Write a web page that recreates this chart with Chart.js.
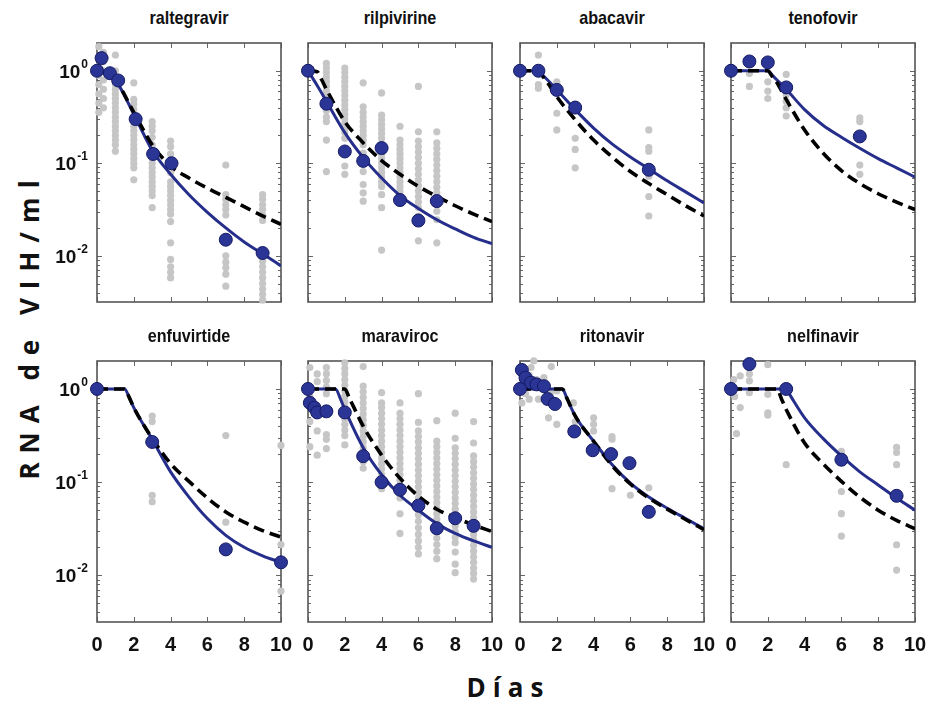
<!DOCTYPE html>
<html>
<head>
<meta charset="utf-8">
<script src="https://cdn.jsdelivr.net/npm/chart.js@4.4.1/dist/chart.umd.min.js"></script>
<style>
  body { margin: 0; background: #fff; font-family: "Liberation Sans", Arial, sans-serif; }
  #wrap { position: relative; width: 928px; height: 706px; overflow: hidden; }
  #wrap canvas { position: absolute; }
  .ttl { position: absolute; width: 184px; text-align: center; font-weight: bold; font-size: 19px; color: #111; line-height: 20px; transform: scaleX(0.85); transform-origin: center; }
  #ylab, #xlab { position: absolute; font-family: "Open Sans", sans-serif; font-weight: 700; font-size: 26px; color: #111; white-space: nowrap; }
  #ylab { left: 29px; top: 330px; letter-spacing: 9px; padding-left: 9px; transform: translate(-50%, -50%) rotate(-90deg); }
  #xlab { left: 505px; top: 687px; letter-spacing: 7px; padding-left: 7px; transform: translate(-50%, -50%); }
</style>
</head>
<body>
<div id="wrap">
  <div id="ylab">RNA de VIH/ml</div>
  <div id="xlab">Días</div>
</div>
<script>
// axes
const xTicks = [0, 2, 4, 6, 8, 10];
const yTicks = [1, 0.1, 0.01];
const yTickExp = ['0', '-1', '-2'];
const yMin = 0.00316, yMax = 1.995;

const drugs = ['raltegravir', 'rilpivirine', 'abacavir', 'tenofovir',
               'enfuvirtide', 'maraviroc', 'ritonavir', 'nelfinavir'];

// individual patients: [day, [values]]
const raltegravirSamples = [
  [0.1, [1.82, 1.41, 1.12, 0.891, 0.708, 0.562, 0.447, 0.355]],
  [0.35, [1.58, 1.26, 1.0, 0.794, 0.631, 0.501, 0.398]],
  [1, [1.48, 1.0, 0.794, 0.708, 0.631, 0.562, 0.501, 0.447, 0.398, 0.355, 0.316, 0.282, 0.251, 0.224, 0.2, 0.178, 0.158, 0.135]],
  [2, [0.741, 0.49, 0.437, 0.38, 0.316, 0.282, 0.251, 0.224, 0.2, 0.178, 0.158, 0.141, 0.126, 0.112, 0.1, 0.0891, 0.0661]],
  [3, [0.282, 0.251, 0.224, 0.191, 0.158, 0.126, 0.112, 0.1, 0.0891, 0.0794, 0.0708, 0.0631, 0.0562, 0.0501, 0.0447, 0.0331]],
  [4, [0.174, 0.151, 0.126, 0.107, 0.0891, 0.0794, 0.0631, 0.0562, 0.0501, 0.0447, 0.0398, 0.0355, 0.0316, 0.0282, 0.0234, 0.0138, 0.00912, 0.00759, 0.00661, 0.00575]],
  [7, [0.0955, 0.0457, 0.0407, 0.0355, 0.0316, 0.0275, 0.0148, 0.01, 0.00851, 0.00741, 0.00631, 0.00468]],
  [9, [0.0457, 0.0407, 0.0355, 0.0316, 0.0275, 0.024, 0.01, 0.00871, 0.00759, 0.00661, 0.00575, 0.00501, 0.00437, 0.0038, 0.00331]]
];
const rilpivirineSamples = [
  [1, [1.2, 1.07, 0.955, 0.851, 0.759, 0.676, 0.603, 0.537, 0.468, 0.417, 0.372, 0.316, 0.282, 0.178, 0.0813]],
  [2, [1.07, 0.955, 0.851, 0.759, 0.676, 0.603, 0.537, 0.479, 0.427, 0.38, 0.339, 0.302, 0.269, 0.24, 0.214, 0.186, 0.0933, 0.0759]],
  [3, [0.741, 0.407, 0.355, 0.316, 0.282, 0.251, 0.224, 0.2, 0.178, 0.158, 0.129, 0.0813, 0.0589, 0.0479, 0.0389]],
  [4, [0.575, 0.331, 0.295, 0.263, 0.234, 0.209, 0.186, 0.158, 0.141, 0.126, 0.112, 0.1, 0.0891, 0.0794, 0.0708, 0.0631, 0.0562, 0.0457, 0.0331, 0.0115]],
  [5, [0.251, 0.178, 0.158, 0.141, 0.126, 0.112, 0.1, 0.0891, 0.0794, 0.0708, 0.0631, 0.0562, 0.0501, 0.0447, 0.0389]],
  [6, [0.676, 0.219, 0.174, 0.151, 0.132, 0.115, 0.1, 0.0871, 0.0759, 0.0661, 0.0575, 0.0501, 0.0437, 0.038, 0.0331, 0.0269, 0.0145]],
  [7, [0.219, 0.166, 0.145, 0.126, 0.11, 0.0955, 0.0832, 0.0724, 0.0631, 0.055, 0.0479, 0.0417, 0.0355, 0.0302, 0.0245, 0.0138]]
];
const abacavirSamples = [
  [1, [1.48, 0.708, 0.646]],
  [2, [0.759, 0.724, 0.347, 0.229]],
  [3, [0.186, 0.141, 0.0891]],
  [7, [0.229, 0.148, 0.135, 0.0724, 0.0437, 0.0269]]
];
const tenofovirSamples = [
  [1, [0.933, 0.676]],
  [2, [0.759, 0.603, 0.501]],
  [3, [0.912, 0.55, 0.468, 0.398, 0.324]],
  [7, [0.309, 0.282, 0.0955, 0.0759]]
];
const enfuvirtideSamples = [
  [3, [0.513, 0.447, 0.0724, 0.0617]],
  [7, [0.316, 0.0372]],
  [10, [0.248, 0.0214, 0.00679]]
];
const maravirocSamples = [
  [0.1, [1.7, 0.832, 0.447, 0.24]],
  [0.5, [1.45, 1.2, 0.355, 0.195]],
  [1, [1.7, 1.45, 1.23, 1.05, 0.891, 0.324, 0.288, 0.229]],
  [2, [1.905, 1.66, 1.45, 1.26, 1.1, 0.955, 0.832, 0.724, 0.631, 0.55, 0.479, 0.417, 0.363, 0.316, 0.251]],
  [3, [1.74, 1.07, 0.933, 0.813, 0.708, 0.617, 0.537, 0.468, 0.407, 0.355, 0.309, 0.269, 0.234, 0.2, 0.166, 0.141]],
  [4, [0.912, 0.708, 0.631, 0.55, 0.479, 0.417, 0.363, 0.316, 0.275, 0.24, 0.209, 0.182, 0.158, 0.138, 0.12, 0.105, 0.0851]],
  [5, [0.708, 0.55, 0.479, 0.417, 0.363, 0.316, 0.275, 0.24, 0.209, 0.182, 0.158, 0.138, 0.12, 0.105, 0.0912, 0.0794, 0.0676, 0.0457, 0.0282]],
  [6, [0.891, 0.437, 0.355, 0.309, 0.269, 0.234, 0.204, 0.178, 0.155, 0.135, 0.117, 0.102, 0.0891, 0.0776, 0.0676, 0.0589, 0.0447, 0.038, 0.0324, 0.0275, 0.0234, 0.02, 0.017]],
  [7, [0.457, 0.275, 0.24, 0.209, 0.182, 0.158, 0.138, 0.12, 0.105, 0.0912, 0.0794, 0.0692, 0.0603, 0.0525, 0.0457, 0.0398, 0.0347, 0.0251, 0.0214, 0.0182, 0.0151]],
  [8, [0.55, 0.295, 0.234, 0.204, 0.178, 0.155, 0.135, 0.117, 0.102, 0.0891, 0.0776, 0.0676, 0.0589, 0.0513, 0.0447, 0.0389, 0.0339, 0.0295, 0.0257, 0.0224, 0.0178, 0.0132, 0.0107]],
  [9, [0.447, 0.263, 0.191, 0.166, 0.145, 0.126, 0.11, 0.0955, 0.0832, 0.0724, 0.0631, 0.055, 0.0479, 0.0417, 0.0363, 0.0316, 0.0275, 0.024, 0.0209, 0.0182, 0.0158, 0.0138, 0.012, 0.0105, 0.00912]]
];
const ritonavirSamples = [
  [0.05, [1.12]], [0.1, [0.708]], [0.2, [1.55]], [0.3, [0.891]], [0.5, [1.41, 0.776]],
  [0.6, [1.7]], [0.75, [2.0]], [0.9, [1.26]], [1, [0.776]], [1.3, [1.32]],
  [1.55, [0.49]], [1.7, [1.74, 0.933]], [2, [0.417, 0.955]], [2.9, [0.708]], [3, [0.447]],
  [4, [0.49, 0.417, 0.355]], [5, [0.309, 0.288, 0.0851]], [6, [0.0724]], [7, [0.0871]]
];
const nelfinavirSamples = [
  [0.15, [1.26]], [0.2, [0.832]], [0.3, [0.331]], [0.5, [1.38, 0.631]],
  [1, [1.45, 1.22, 0.912]], [2, [1.82, 0.875, 0.555, 0.524]], [3, [0.154]],
  [6, [0.214, 0.197, 0.0794, 0.0459, 0.0264]],
  [9, [0.236, 0.208, 0.154, 0.0213, 0.0114]]
];

// group means: [day, value]
const raltegravirMeans = [[0, 1.0], [0.25, 1.37], [0.7, 0.94], [1.15, 0.785], [2.1, 0.30], [3.05, 0.126], [4.05, 0.100], [7, 0.0149], [9, 0.0107]];
const rilpivirineMeans = [[0, 1.0], [1, 0.44], [2, 0.134], [3, 0.106], [4, 0.146], [5, 0.040], [6, 0.024], [7, 0.039]];
const abacavirMeans = [[0, 1], [1, 1], [2, 0.62], [3, 0.40], [7, 0.085]];
const tenofovirMeans = [[0, 1], [1, 1.26], [2, 1.23], [3, 0.66], [7, 0.195]];
const enfuvirtideMeans = [[0, 1], [3, 0.27], [7, 0.019], [10, 0.0138]];
const maravirocMeans = [[0, 1], [0.1, 0.71], [0.35, 0.63], [0.5, 0.56], [1, 0.575], [2, 0.56], [3, 0.19], [4, 0.10], [5, 0.083], [6, 0.056], [7, 0.032], [8, 0.041], [9, 0.034]];
const ritonavirMeans = [[0, 1.0], [0.1, 1.6], [0.3, 1.32], [0.6, 1.17], [0.9, 1.12], [1.3, 1.07], [1.5, 0.78], [1.9, 0.69], [2.95, 0.35], [3.95, 0.22], [4.95, 0.20], [5.95, 0.16], [7, 0.048]];
const nelfinavirMeans = [[0, 1], [1, 1.85], [3, 1], [6, 0.174], [9, 0.0714]];

// model curves, solid (blue)
const raltegravirSolid = [[0, 1], [0.5, 0.933], [1, 0.794], [2, 0.339], [3, 0.138], [4, 0.0759], [5, 0.0457], [6, 0.0295], [7, 0.02], [8, 0.0141], [9, 0.0105], [10, 0.00776]];
const rilpivirineSolid = [[0, 1], [0.5, 0.692], [1, 0.468], [2, 0.214], [3, 0.115], [4, 0.0692], [5, 0.0447], [6, 0.0324], [7, 0.0245], [8, 0.0195], [9, 0.0158], [10, 0.0135]];
const abacavirSolid = [[0, 1], [1, 1], [1.25, 0.891], [1.5, 0.794], [2, 0.624], [3, 0.38], [4, 0.24], [5, 0.162], [6, 0.117], [7, 0.0871], [8, 0.0646], [9, 0.049], [10, 0.0372]];
const tenofovirSolid = [[0, 1], [1, 1], [2, 1], [2.25, 0.891], [2.5, 0.794], [3, 0.631], [4, 0.38], [5, 0.257], [6, 0.191], [7, 0.145], [8, 0.112], [9, 0.0891], [10, 0.0708]];
const enfuvirtideSolid = [[0, 1], [1, 1], [1.5, 1], [1.75, 0.813], [2, 0.631], [3, 0.288], [4, 0.129], [5, 0.0692], [6, 0.0407], [7, 0.0269], [8, 0.02], [9, 0.0162], [10, 0.0138]];
const maravirocSolid = [[0, 1], [1, 1], [1.5, 1], [1.75, 0.794], [2, 0.603], [3, 0.234], [4, 0.12], [5, 0.0724], [6, 0.0501], [7, 0.0359], [8, 0.0282], [9, 0.0234], [10, 0.02]];
const ritonavirSolid = [[0, 1], [1, 1], [2, 1], [2.3, 1], [2.55, 0.794], [3, 0.513], [4, 0.275], [5, 0.155], [6, 0.0977], [7, 0.0692], [8, 0.0525], [9, 0.0407], [10, 0.0316]];
const nelfinavirSolid = [[0, 1], [1, 1], [2, 1], [3, 1], [3.25, 0.832], [4, 0.49], [5, 0.295], [6, 0.191], [7, 0.129], [8, 0.0933], [9, 0.0676], [10, 0.0501]];

// model curves, dashed (black)
const raltegravirDashed = [[0, 1], [0.5, 0.933], [1, 0.794], [2, 0.355], [3, 0.158], [4, 0.0933], [5, 0.0692], [6, 0.0537], [7, 0.0427], [8, 0.0339], [9, 0.0269], [10, 0.0219]];
const rilpivirineDashed = [[0, 1], [0.5, 0.977], [0.75, 0.794], [1, 0.631], [2, 0.282], [3, 0.166], [4, 0.107], [5, 0.0759], [6, 0.0562], [7, 0.0437], [8, 0.0347], [9, 0.0282], [10, 0.0234]];
const abacavirDashed = [[0, 1], [1, 1], [1.25, 0.861], [1.5, 0.741], [2, 0.525], [3, 0.295], [4, 0.178], [5, 0.117], [6, 0.0813], [7, 0.0603], [8, 0.0457], [9, 0.0347], [10, 0.0269]];
const tenofovirDashed = [[0, 1], [1, 1], [2, 1], [2.25, 0.861], [2.5, 0.741], [3, 0.49], [4, 0.229], [5, 0.129], [6, 0.0832], [7, 0.0603], [8, 0.0468], [9, 0.038], [10, 0.0316]];
const enfuvirtideDashed = [[0, 1], [1, 1], [1.5, 1], [1.75, 0.813], [2, 0.631], [3, 0.295], [4, 0.158], [5, 0.102], [6, 0.0676], [7, 0.0479], [8, 0.0372], [9, 0.0302], [10, 0.0257]];
const maravirocDashed = [[0, 1], [1, 1], [2, 1], [2.25, 0.794], [2.5, 0.631], [3, 0.398], [4, 0.195], [5, 0.11], [6, 0.0708], [7, 0.0513], [8, 0.0417], [9, 0.0347], [10, 0.0295]];
const ritonavirDashed = [[0, 1], [1, 1], [2, 1], [2.3, 1], [2.55, 0.794], [3, 0.513], [4, 0.275], [5, 0.151], [6, 0.0955], [7, 0.0676], [8, 0.0513], [9, 0.0398], [10, 0.0309]];
const nelfinavirDashed = [[0, 1], [1, 1], [2, 1], [2.5, 1], [2.75, 0.776], [3, 0.603], [4, 0.263], [5, 0.158], [6, 0.102], [7, 0.0692], [8, 0.0501], [9, 0.0389], [10, 0.0316]];

const samples = [raltegravirSamples, rilpivirineSamples, abacavirSamples, tenofovirSamples,
                 enfuvirtideSamples, maravirocSamples, ritonavirSamples, nelfinavirSamples];
const means = [raltegravirMeans, rilpivirineMeans, abacavirMeans, tenofovirMeans,
               enfuvirtideMeans, maravirocMeans, ritonavirMeans, nelfinavirMeans];
const solids = [raltegravirSolid, rilpivirineSolid, abacavirSolid, tenofovirSolid,
                enfuvirtideSolid, maravirocSolid, ritonavirSolid, nelfinavirSolid];
const dashes = [raltegravirDashed, rilpivirineDashed, abacavirDashed, tenofovirDashed,
                enfuvirtideDashed, maravirocDashed, ritonavirDashed, nelfinavirDashed];

// panel boxes
const colLeft = [97, 308, 520, 731];
const rowTop = [43, 361];
const rowHeight = [259, 261];
const panelWidth = 184;
const pad = { left: 62, right: 12, top: 12, bottom: 36 };

const toPts = arr => arr.map(([x, y]) => ({ x, y }));
const flatten = cols => cols.flatMap(([d, vals]) => vals.map(v => ({ x: d, y: v })));

// frame, inward ticks and tick labels
const axisFrame = {
  id: 'axisFrame',
  beforeDatasetsDraw(chart, args, opts) {
    const { ctx, chartArea: a, scales: { x, y } } = chart;
    const seg = (x0, y0, x1, y1) => { ctx.beginPath(); ctx.moveTo(x0, y0); ctx.lineTo(x1, y1); ctx.stroke(); };
    ctx.save();
    ctx.strokeStyle = '#666';
    ctx.lineWidth = 1;
    xTicks.forEach(v => {
      const px = Math.round(x.getPixelForValue(v)) + 0.5;
      seg(px, a.bottom, px, a.bottom - 5);
      seg(px, a.top, px, a.top + 5);
    });
    for (let e = -3; e <= 0; e++) {
      for (let k = 1; k <= 9; k++) {
        const v = k * Math.pow(10, e);
        if (v < y.min || v > y.max) continue;
        const py = Math.round(y.getPixelForValue(v)) + 0.5;
        const len = k === 1 ? 5 : 3;
        seg(a.left, py, a.left + len, py);
        seg(a.right, py, a.right - len, py);
      }
    }
    ctx.lineWidth = 1.6;
    ctx.strokeStyle = '#555';
    ctx.strokeRect(a.left, a.top, a.right - a.left, a.bottom - a.top);

    ctx.fillStyle = '#111';
    if (opts.xLabels) {
      ctx.font = 'bold 20px "Liberation Sans", Arial, sans-serif';
      ctx.textAlign = 'center';
      ctx.textBaseline = 'top';
      xTicks.forEach(v => ctx.fillText(String(v), x.getPixelForValue(v), a.bottom + 13));
    }
    if (opts.yLabels) {
      ctx.textAlign = 'right';
      ctx.textBaseline = 'alphabetic';
      yTicks.forEach((v, i) => {
        const py = y.getPixelForValue(v);
        ctx.font = 'bold 12px "Liberation Sans", Arial, sans-serif';
        const supW = ctx.measureText(yTickExp[i]).width;
        ctx.fillText(yTickExp[i], a.left - 9, py - 3);
        ctx.font = 'bold 19px "Liberation Sans", Arial, sans-serif';
        ctx.fillText('10', a.left - 10 - supW, py + 7);
      });
    }
    ctx.restore();
  }
};

const wrap = document.getElementById('wrap');

drugs.forEach((name, i) => {
  const row = Math.floor(i / 4), col = i % 4;
  const left = colLeft[col], top = rowTop[row], h = rowHeight[row];

  const title = document.createElement('div');
  title.className = 'ttl';
  title.textContent = name;
  title.style.left = left + 'px';
  title.style.top = (top - 35) + 'px';
  wrap.appendChild(title);

  const canvas = document.createElement('canvas');
  canvas.width = panelWidth + pad.left + pad.right;
  canvas.height = h + pad.top + pad.bottom;
  canvas.style.left = (left - pad.left) + 'px';
  canvas.style.top = (top - pad.top) + 'px';
  wrap.appendChild(canvas);

  new Chart(canvas, {
    type: 'scatter',
    data: {
      datasets: [
        {
          data: flatten(samples[i]),
          backgroundColor: '#c6c6c6',
          borderWidth: 0,
          pointRadius: 3.6,
          clip: false,
          order: 4
        },
        {
          type: 'line',
          data: toPts(solids[i]),
          borderColor: '#262e8c',
          borderWidth: 3,
          pointRadius: 0,
          cubicInterpolationMode: 'monotone',
          order: 3
        },
        {
          type: 'line',
          data: toPts(dashes[i]),
          borderColor: '#000',
          borderWidth: 3.6,
          borderDash: [11, 6],
          pointRadius: 0,
          cubicInterpolationMode: 'monotone',
          order: 2
        },
        {
          data: toPts(means[i]),
          backgroundColor: '#2b3595',
          borderColor: '#141a63',
          borderWidth: 1,
          pointRadius: 6.5,
          clip: false,
          order: 1
        }
      ]
    },
    options: {
      responsive: false,
      animation: false,
      devicePixelRatio: 1,
      layout: { padding: pad },
      plugins: {
        legend: { display: false },
        tooltip: { enabled: false },
        axisFrame: { xLabels: row === 1, yLabels: col === 0 }
      },
      scales: {
        x: { type: 'linear', min: 0, max: 10, display: false },
        y: { type: 'logarithmic', min: yMin, max: yMax, display: false }
      }
    },
    plugins: [axisFrame]
  });
});
</script>
</body>
</html>
